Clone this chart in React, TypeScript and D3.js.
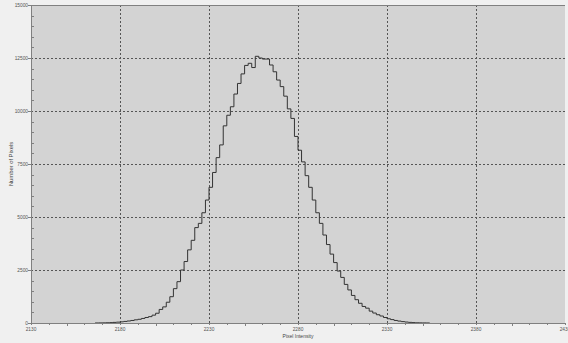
import React, { useEffect, useRef } from "react";
import * as d3 from "d3";

// histogram bins, 2 intensity units wide, starting at binStarts[i]
const binStart = 2166;
const binWidth = 2;
const counts: number[] = [
  2, 5, 8, 12, 18, 28, 40, 55, 75, 95, // 2166-2184
  120, 150, 175, 215, 260, 300, 370, 460, 640, 760, // 2186-2204
  980, 1240, 1620, 1950, 2500, 2900, 3450, 3900, 4500, 4700, // 2206-2224
  5200, 5800, 6400, 7100, 7800, 8400, 9300, 9800, 10200, 10800, // 2226-2244
  11300, 11750, 12150, 12250, 12050, 12580, 12500, 12450, 12450, 12170, // 2246-2264
  11850, 11460, 11150, 10700, 10100, 9650, 8800, 8150, 7600, 6950, // 2266-2284
  6400, 5800, 5200, 4700, 4150, 3700, 3250, 2850, 2450, 2150, // 2286-2304
  1820, 1560, 1300, 1100, 930, 780, 700, 560, 470, 390, // 2306-2324
  330, 260, 200, 160, 120, 90, 65, 45, 30, 18, // 2326-2344
  10, 6, 4, 2, // 2346-2352
];

const xTicks = [2130, 2180, 2230, 2280, 2330, 2380, 2430];
const yTicks = [0, 2500, 5000, 7500, 10000, 12500, 15000];
const xTitle = "Pixel Intensity";
const yTitle = "Number of Pixels";

const W = 568;
const H = 343;

const App = () => {
  const ref = useRef<SVGSVGElement>(null);

  useEffect(() => {
    const svg = d3.select(ref.current);
    svg.selectAll("*").remove();

    const left = 31;
    const right = 565;
    const top = 5;
    const bottom = 323;

    const x = d3.scaleLinear().domain([2130, 2430]).range([left, right]);
    const y = d3.scaleLinear().domain([0, 15000]).range([bottom, top]);

    svg.append("rect").attr("width", W).attr("height", H).attr("fill", "#f0f0f0");

    svg
      .append("rect")
      .attr("x", left)
      .attr("y", top)
      .attr("width", right - left)
      .attr("height", bottom - top)
      .attr("fill", "#d3d3d3");

    // grid
    const grid = svg.append("g").attr("stroke", "#555").attr("stroke-dasharray", "2,2");
    xTicks.slice(1, -1).forEach((t) => {
      const px = Math.round(x(t)) + 0.5;
      grid.append("line").attr("x1", px).attr("x2", px).attr("y1", top).attr("y2", bottom);
    });
    yTicks.slice(1, -1).forEach((t) => {
      const py = Math.round(y(t)) + 0.5;
      grid.append("line").attr("x1", left).attr("x2", right).attr("y1", py).attr("y2", py);
    });

    // histogram outline
    const pts: [number, number][] = counts.map((c, i) => [binStart + i * binWidth, c]);
    pts.push([binStart + counts.length * binWidth, counts[counts.length - 1]]);
    const line = d3
      .line<[number, number]>()
      .x((d) => x(d[0]))
      .y((d) => y(d[1]))
      .curve(d3.curveStepAfter);
    svg
      .append("path")
      .datum(pts)
      .attr("d", line)
      .attr("fill", "none")
      .attr("stroke", "#333")
      .attr("stroke-width", 1);

    // axes
    const axis = svg.append("g").attr("stroke", "#808080").attr("shape-rendering", "crispEdges");
    axis.append("line").attr("x1", left + 0.5).attr("x2", left + 0.5).attr("y1", top).attr("y2", bottom);
    axis.append("line").attr("x1", left).attr("x2", right).attr("y1", bottom + 0.5).attr("y2", bottom + 0.5);
    axis.append("line").attr("x1", left).attr("x2", right).attr("y1", top + 0.5).attr("y2", top + 0.5);

    d3.range(0, 15001, 500).forEach((v) => {
      const py = Math.round(y(v)) + 0.5;
      if (v % 2500 === 0) {
        axis.append("line").attr("x1", left - 3).attr("x2", left).attr("y1", py).attr("y2", py);
      } else {
        axis.append("line").attr("x1", left).attr("x2", left + 3).attr("y1", py).attr("y2", py);
      }
    });
    d3.range(2130, 2431, 10).forEach((v) => {
      const px = Math.round(x(v)) + 0.5;
      const len = v % 50 === 0 ? 3 : 2;
      axis.append("line").attr("x1", px).attr("x2", px).attr("y1", bottom).attr("y2", bottom + len);
    });

    const font = "'Liberation Sans', Arial, sans-serif";

    svg
      .append("g")
      .selectAll("text")
      .data(yTicks)
      .join("text")
      .attr("x", left - 3)
      .attr("y", (d) => y(d))
      .attr("dy", "0.35em")
      .attr("text-anchor", "end")
      .attr("font-family", font)
      .attr("font-size", 4.8)
      .attr("fill", "#555")
      .text((d) => d);

    svg
      .append("g")
      .selectAll("text")
      .data(xTicks)
      .join("text")
      .attr("x", (d) => x(d))
      .attr("y", 331)
      .attr("text-anchor", "middle")
      .attr("font-family", font)
      .attr("font-size", 4.8)
      .attr("fill", "#555")
      .text((d) => d);

    svg
      .append("text")
      .attr("x", (left + right) / 2)
      .attr("y", 337.5)
      .attr("text-anchor", "middle")
      .attr("font-family", font)
      .attr("font-size", 5)
      .attr("fill", "#444")
      .text(xTitle);

    svg
      .append("text")
      .attr("transform", `translate(13,${(top + bottom) / 2}) rotate(-90)`)
      .attr("text-anchor", "middle")
      .attr("font-family", font)
      .attr("font-size", 5.8)
      .attr("fill", "#444")
      .text(yTitle);
  }, []);

  return (
    <svg
      ref={ref}
      width={W}
      height={H}
      style={{ position: "absolute", left: 0, top: 0, display: "block" }}
    />
  );
};

export default App;
